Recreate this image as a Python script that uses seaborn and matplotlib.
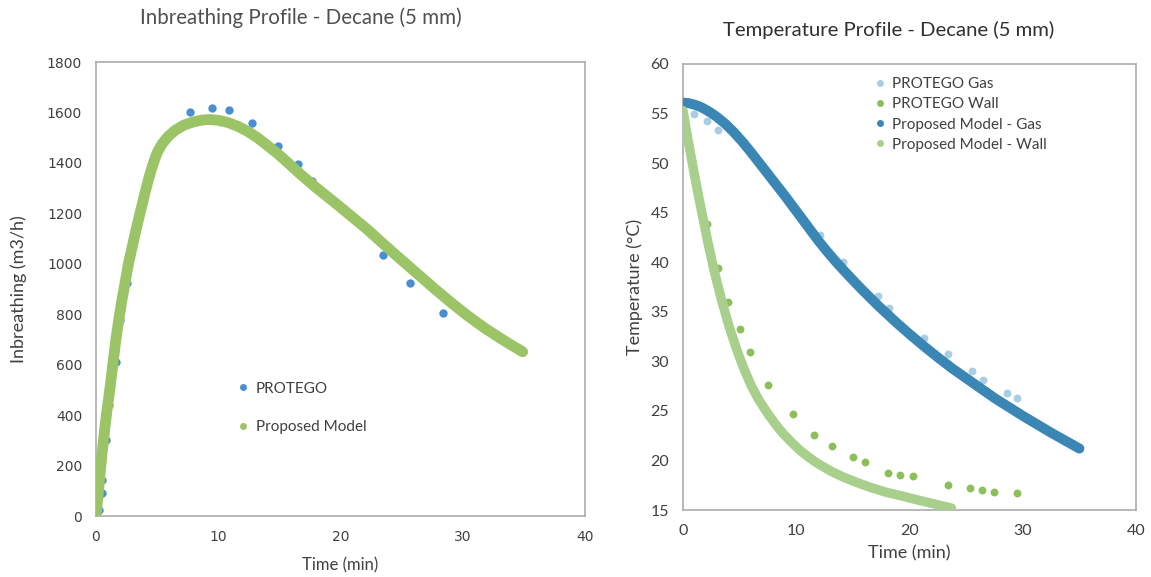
import numpy as np
import pandas as pd
import seaborn as sns
import matplotlib
matplotlib.use("Agg")
import matplotlib.pyplot as plt
from matplotlib.lines import Line2D

# ---------------- data: Inbreathing (left) ----------------
protego_t = [0.25, 0.45, 0.5, 0.8, 1.1, 1.6, 2.0, 2.5, 4.75, 5.8, 7.7, 9.5, 10.85,
             12.8, 14.9, 16.5, 17.7, 23.5, 25.7, 28.4]
protego_v = [24, 90, 143, 300, 440, 612, 777, 924, 1405, 1504, 1603, 1617, 1610,
             1557, 1468, 1396, 1330, 1035, 924, 805]

model_t = [0, 0.1, 0.2, 0.35, 0.5, 0.7, 0.9, 1.1, 1.4, 1.6, 1.85, 2.1, 2.4, 2.65, 3.0,
           3.3, 3.6, 4.0, 4.35, 4.7, 5.0, 5.4, 5.9, 6.5, 7.2, 8.0, 8.7, 9.3, 10.0, 10.8,
           11.6, 12.4, 13.2, 14.0, 14.9, 15.8, 16.7, 18.0, 19.45, 20.8, 22.2, 23.5, 24.9,
           26.3, 27.65, 29.0, 30.4, 31.8, 33.1, 34.0, 34.9]
model_v = [0, 50, 100, 175, 250, 340, 420, 490, 610, 690, 775, 850, 930, 1000, 1075,
           1140, 1200, 1280, 1345, 1400, 1440, 1475, 1505, 1530, 1550, 1563, 1570, 1572,
           1569, 1560, 1545, 1525, 1500, 1470, 1435, 1396, 1356, 1302, 1246, 1192, 1136,
           1079, 1019, 960, 903, 848, 794, 745, 704, 677, 651]

# ---------------- data: Temperature (right) ----------------
gas_pts_t = [1.0, 2.1, 3.1, 12.1, 14.1, 17.2, 18.2, 21.3, 23.4, 25.5, 26.5, 28.6, 29.5]
gas_pts_T = [54.95, 54.25, 53.3, 42.75, 40.0, 36.55, 35.4, 32.4, 30.7, 29.0, 28.1, 26.8, 26.3]

wall_pts_t = [2.1, 3.1, 4.0, 5.0, 5.9, 7.5, 9.7, 11.6, 13.2, 15.0, 16.1, 18.1, 19.2, 20.3,
              23.4, 25.3, 26.4, 27.5, 29.5]
wall_pts_T = [43.9, 39.4, 36.0, 33.3, 30.9, 27.6, 24.7, 22.6, 21.5, 20.3, 19.8, 18.7, 18.5,
              18.4, 17.5, 17.2, 17.0, 16.85, 16.7]

gas_model_t = [0, 0.5, 1.0, 1.5, 2.0, 2.5, 3.0, 3.75, 4.5, 5.25, 6.0, 6.75, 7.5, 8.25,
               9.0, 9.75, 10.5, 11.25, 12.0, 12.75, 13.5, 14.25, 15.0, 15.75, 16.5, 17.25,
               18.0, 19.0, 20.0, 21.25, 22.5, 23.75, 25.0, 26.25, 27.5, 28.75, 30.0, 31.25,
               32.5, 33.75, 35.0]
gas_model_T = [56.1, 56.05, 55.9, 55.7, 55.4, 55.05, 54.65, 53.95, 53.1, 52.15, 51.1,
               50.0, 48.9, 47.8, 46.7, 45.55, 44.4, 43.25, 42.1, 41.05, 40.05, 39.1, 38.2,
               37.3, 36.45, 35.6, 34.8, 33.75, 32.75, 31.55, 30.4, 29.3, 28.3, 27.3, 26.3,
               25.4, 24.5, 23.65, 22.8, 22.0, 21.2]

wall_model_t = [0, 0.4, 0.9, 1.3, 1.7, 2.2, 2.7, 3.0, 3.4, 4.1, 4.8, 5.4, 6.0, 6.7, 7.5,
                8.2, 8.85, 9.7, 10.3, 10.9, 11.5, 12.1, 13.1, 14.1, 15.3, 16.5, 17.9, 19.4,
                20.4, 21.5, 22.6, 23.7]
wall_model_T = [55.3, 52.6, 49.5, 47.1, 44.8, 42.0, 39.4, 38.0, 36.2, 33.4, 31.0, 29.2,
                27.6, 26.1, 24.7, 23.6, 22.7, 21.7, 21.05, 20.5, 20.0, 19.55, 18.9, 18.35,
                17.8, 17.3, 16.8, 16.4, 16.1, 15.8, 15.5, 15.2]

left_yticks = [0, 200, 400, 600, 800, 1000, 1200, 1400, 1600, 1800]
right_yticks = [15, 20, 25, 30, 35, 40, 45, 50, 55, 60]
xticks = [0, 10, 20, 30, 40]

# ---------------- style ----------------
sns.set_theme(style="white")
plt.rcParams["font.family"] = ["Lato", "DejaVu Sans"]

C_BLUE = "#4A8ED2"
C_GREEN = "#9BC467"
C_LBLUE = "#A9CDE3"
C_WGREEN = "#8DBF58"
C_DBLUE = "#3A86B4"
C_LGREEN = "#A8CF8C"
FRAME = "#ABABAB"
TXT = "#404040"

fig = plt.figure(figsize=(11.51, 5.77), dpi=100)
ax1 = fig.add_axes([96 / 1151, 1 - 516 / 577, (585 - 96) / 1151, (516 - 62) / 577])
ax2 = fig.add_axes([683 / 1151, 1 - 510 / 577, (1136 - 683) / 1151, (510 - 64) / 577])

# ---------------- left chart ----------------
df_p = pd.DataFrame({"t": protego_t, "v": protego_v})
df_m = pd.DataFrame({"t": model_t, "v": model_v})
sns.scatterplot(data=df_p, x="t", y="v", ax=ax1, color=C_BLUE, s=36, linewidth=0, zorder=2)
sns.lineplot(data=df_m, x="t", y="v", ax=ax1, color=C_GREEN, lw=7.8, sort=False,
             estimator=None, zorder=3, solid_capstyle="round", solid_joinstyle="round")
ax1.set_xlim(0, 40)
ax1.set_ylim(0, 1800)
ax1.set_xticks(xticks)
ax1.set_yticks(left_yticks)
ax1.tick_params(length=0, colors=TXT, pad=10)
for lab in ax1.get_xticklabels() + ax1.get_yticklabels():
    lab.set_family("DejaVu Sans")
    lab.set_fontsize(10)
ax1.set_xlabel("Time (min)", fontsize=12, color=TXT, labelpad=10)
ax1.set_ylabel("Inbreathing (m3/h)", fontsize=13, color=TXT, labelpad=14)
fig.text(301 / 1151, 1 - 18 / 577, "Inbreathing Profile - Decane (5 mm)", ha="center",
         va="center", fontsize=14.8, color="#505050")
h1 = [Line2D([], [], ls="none", marker="o", ms=5, color=C_BLUE, mew=0),
      Line2D([], [], ls="none", marker="o", ms=5, color=C_GREEN, mew=0)]
ax1.legend(h1, ["PROTEGO", "Proposed Model"], loc="center left",
           bbox_to_anchor=(0.292, 0.238), frameon=False, fontsize=11, labelspacing=1.6,
           handlelength=0.6, handletextpad=0.5, borderpad=0, borderaxespad=0,
           labelcolor=TXT)

# ---------------- right chart ----------------
df_gp = pd.DataFrame({"t": gas_pts_t, "T": gas_pts_T})
df_wp = pd.DataFrame({"t": wall_pts_t, "T": wall_pts_T})
df_gm = pd.DataFrame({"t": gas_model_t, "T": gas_model_T})
df_wm = pd.DataFrame({"t": wall_model_t, "T": wall_model_T})
sns.scatterplot(data=df_gp, x="t", y="T", ax=ax2, color=C_LBLUE, s=32, linewidth=0, zorder=2)
sns.scatterplot(data=df_wp, x="t", y="T", ax=ax2, color=C_WGREEN, s=32, linewidth=0, zorder=2)
sns.lineplot(data=df_gm, x="t", y="T", ax=ax2, color=C_DBLUE, lw=7.2, sort=False,
             estimator=None, zorder=3, solid_capstyle="round", solid_joinstyle="round")
sns.lineplot(data=df_wm, x="t", y="T", ax=ax2, color=C_LGREEN, lw=6.8, sort=False,
             estimator=None, zorder=3, solid_capstyle="round", solid_joinstyle="round")
ax2.set_xlim(0, 40)
ax2.set_ylim(15, 60)
ax2.set_xticks(xticks)
ax2.set_yticks(right_yticks)
ax2.tick_params(length=0, labelsize=11.5, colors=TXT, pad=10)
ax2.set_xlabel("Time (min)", fontsize=13, color=TXT, labelpad=5)
ax2.set_ylabel("Temperature (°C)", fontsize=13, color=TXT, labelpad=5)
fig.text(889 / 1151, 1 - 30 / 577, "Temperature Profile - Decane (5 mm)", ha="center",
         va="center", fontsize=14.6, color="#303030")
h2 = [Line2D([], [], ls="none", marker="o", ms=5, color=c, mew=0)
      for c in (C_LBLUE, C_WGREEN, C_DBLUE, C_LGREEN)]
ax2.legend(h2, ["PROTEGO Gas", "PROTEGO Wall", "Proposed Model - Gas",
                "Proposed Model - Wall"], loc="upper left", bbox_to_anchor=(0.425, 0.97),
           frameon=False, fontsize=11, labelspacing=0.4, handlelength=0.6,
           handletextpad=0.5, borderpad=0, borderaxespad=0, labelcolor=TXT)

for ax in (ax1, ax2):
    for sp in ax.spines.values():
        sp.set_visible(True)
        sp.set_color(FRAME)
        sp.set_linewidth(1.2)
    ax.grid(False)

fig.savefig("out.png", dpi=100, facecolor="white")
